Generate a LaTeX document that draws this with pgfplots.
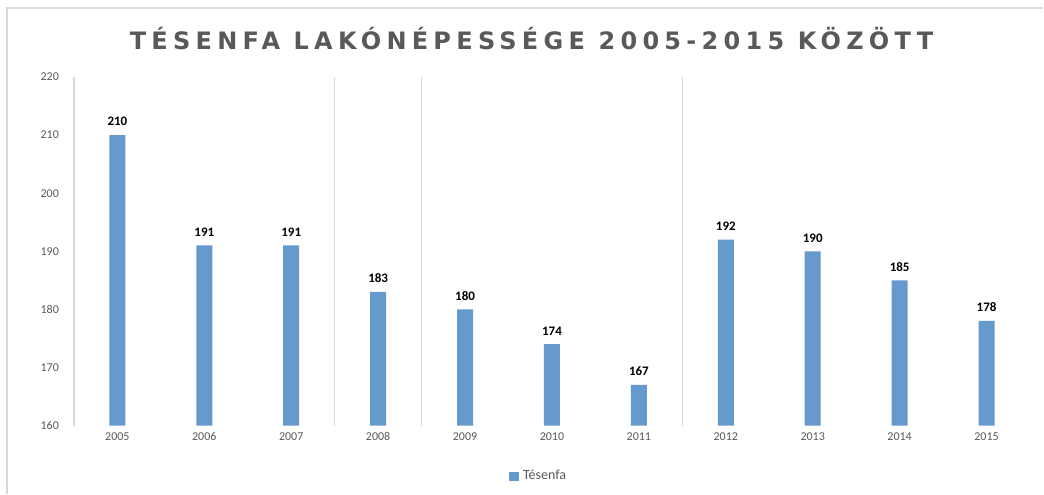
\documentclass[border=0pt]{standalone}
\usepackage{pgfplots}
\pgfplotsset{compat=1.18}
\usepackage{fontspec}
\setmainfont{Carlito}
\newfontfamily\titlefont[LetterSpace=22]{DejaVu Sans}
\definecolor{barblue}{HTML}{6699CC}
\definecolor{txtgrey}{HTML}{595959}
\definecolor{gridgrey}{HTML}{D9D9D9}
\begin{document}
\begin{tikzpicture}[x=1pt,y=1pt]
\path[fill=white] (0,0) rectangle (522,247);
\draw[gridgrey, line width=1pt] (3.5,0) -- (3.5,243) -- (522,243);
\node[font=\titlefont\bfseries\fontsize{12}{14}\selectfont, text=txtgrey] at (266,227.5) {TÉSENFA LAKÓNÉPESSÉGE 2005-2015 KÖZÖTT};
\begin{axis}[
  at={(37pt,34pt)}, anchor=south west,
  width=478.5pt, height=174.5pt, scale only axis,
  ymin=160, ymax=220, xmin=-0.5, xmax=10.5,
  ytick={160,170,...,220},
  xtick={0,...,10},
  xticklabels={2005,2006,2007,2008,2009,2010,2011,2012,2013,2014,2015},
  /pgf/number format/assume math mode=true,
  axis line style={draw=none},
  major tick length=0pt,
  tick style={draw=none},
  ticklabel style={font=\fontsize{6}{7}\selectfont, text=txtgrey},
  yticklabel style={xshift=-4pt},
  extra x ticks={-0.5,2.5,3.5,6.5},
  extra x tick labels={},
  extra x tick style={grid=major, major grid style={gridgrey, line width=0.8pt}},
  ybar, bar width=8pt,
  nodes near coords,
  nodes near coords style={font=\bfseries\fontsize{6.5}{7}\selectfont, text=black, yshift=1pt},
  legend style={at={(0.487,-0.146)}, anchor=center, draw=none, fill=none,
    font=\fontsize{7}{8}\selectfont, text=txtgrey},
  legend image code/.code={\fill[barblue] (0pt,-2.5pt) rectangle (5pt,2.5pt);},
  clip=false,
]
\addplot[fill=barblue, draw=none] coordinates {
(0,210) (1,191) (2,191) (3,183) (4,180) (5,174) (6,167) (7,192) (8,190) (9,185) (10,178)};
\addlegendentry{Tésenfa}
\end{axis}
\end{tikzpicture}
\end{document}
